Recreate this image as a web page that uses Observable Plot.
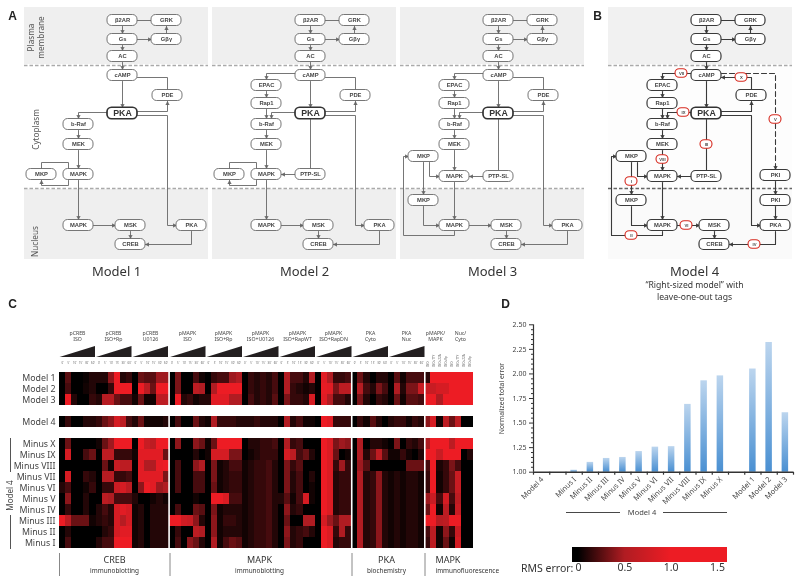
<!DOCTYPE html>
<html><head><meta charset="utf-8">
<style>
html,body{margin:0;padding:0;background:#fff}
#fig{position:relative;width:800px;height:584px;overflow:hidden}
#fig svg{position:absolute;left:0;top:0;filter:blur(.3px)}
</style>
<script src="https://cdn.jsdelivr.net/npm/d3@7"></script>
<script src="https://cdn.jsdelivr.net/npm/@observablehq/plot@0.6"></script>
</head><body><div id="fig"></div>
<script>
// ---------- Panel C data: RMS error per condition (68 columns)
const rowModel1 = [0,.25,0,0,.03,.1, .1,.1,.4,1,.1,.15, 0,.3,.25,.25,.45,.45, 0,.35,0,0,.2,.05, 0,.15,.2,.2,.45,.5, 0,.15,.1,.15,.1,.2, 0,.5,.2,.2,.1,.5, 0,.9,.5,.15,.15,.2, 0,.3,.1,0,.1,.1, 0,.25,.05,.2,.2,.2, .12,1,1,1,1,1,1,1];
const rowModel2 = [0,.2,0,0,.05,.1, 0,0,.15,1,1,1, 0,1,.6,.3,1,1, 0,.35,0,0,.6,.5, 0,.5,1,1,1,1, 0,.15,.1,.15,.1,.2, 0,.5,.15,.1,.05,.1, 0,.95,.9,.35,.6,.6, 0,.55,.2,.1,.35,.2, 0,.5,.1,.35,.35,.7, .7,.7,.8,.8,1,1,1,1];
const rowModel3 = [0,1,.1,0,0,.15, .1,.55,.55,.3,.2,.2, .05,.3,.05,.05,.6,.6, 0,1,.1,.15,.05,.1, .1,.9,.9,.9,.5,.5, 0,.2,.1,.15,.1,.25, 0,.35,.15,.15,.1,.8, 0,.9,.5,.2,.2,.1, 0,.35,.1,0,.15,.1, 0,.3,.05,.25,.25,.2, 1,1,.5,1,1,1,1,1];
const rowModel4 = [0,.15,0,0,.1,.1, .15,.3,.4,.8,.6,.2, .1,.3,.05,.05,.05,.1, 0,.2,0,0,.3,.1, .05,.5,.15,.15,.15,.1, .1,.1,.15,.1,.1,.1, 0,.5,.1,.2,.05,.05, 0,1,.9,.15,.15,.15, 0,.15,.05,.25,.1,0, .1,.15,.15,.05,.15,.1, .4,.8,.05,.6,.3,.6,0,0];
const rowMinusX = [0,.3,0,0,0,0, .05,.3,.45,1,1,1, 0,1,.7,.6,1,1, 0,.4,0,0,.4,.3, .05,.3,1,1,1,1, 0,.1,.1,.15,.15,.2, 0,.5,.15,.2,0,0, 0,1,.85,.35,.45,.4, 0,.5,0,.1,.1,.05, 0,.35,0,.15,.1,.2, .5,1,1,1,.6,1,1,1];
const rowMinusIX = [0,.8,0,0,.2,.3, 0,.6,.6,.15,.15,.15, .05,.9,.9,.9,.9,.3, 0,0,0,0,.1,0, .05,.8,.8,.8,.35,.35, 0,.05,.1,.15,.15,.15, 0,.8,.6,.2,.3,.1, 0,1,.85,.3,0,.05, 0,.5,.1,.3,.6,.25, .05,.05,.15,.05,0,.1, 1,1,.7,1,1,1,0,.1];
const rowMinusVIII = [0,0,0,0,0,0, 0,.3,.05,.7,.6,.6, 0,.9,.5,.5,.95,1, 0,.2,0,0,.4,.5, 0,.35,.05,.1,.2,.2, .05,.1,.15,.15,.2,.1, 0,.35,.15,.25,0,0, 0,1,.85,.15,.45,.15, 0,.45,.25,0,0,0, 0,0,0,.3,.3,.3, .2,1,.08,.15,.35,.2,0,0];
const rowMinusVII = [0,.8,0,0,.15,.1, 0,.55,.55,.15,.15,.2, 0,.9,.9,.9,.9,.35, 0,.2,0,0,.2,.2, 0,.35,.05,.1,.15,.15, .05,.1,.15,.15,.2,.1, 0,.35,.1,.2,0,.1, 0,1,.85,.1,.15,.15, 0,.5,.1,.15,.4,.1, .05,.1,.05,.1,.1,.05, .15,1,.05,.15,.3,.7,0,0];
const rowMinusVI = [.1,.2,0,0,.05,.15, 0,.15,.15,.7,.8,.6, 0,.4,1,.9,.45,.5, 0,.2,0,0,.2,.2, 0,.3,.05,.1,.15,.15, .05,.1,.15,.15,.2,.1, 0,.35,.1,.2,0,.05, 0,1,.85,.1,.15,.15, 0,.5,.1,.15,.4,.1, .05,.1,.05,.1,.1,.05, .15,1,.05,.15,.3,.7,0,0];
const rowMinusV = [0,.4,0,0,.1,0, 0,.6,.5,.2,.2,.2, .1,0,0,.05,.1,.05, 0,0,0,0,.05,0, 0,1,1,.85,.2,.2, .05,.1,.15,.15,.2,.1, .1,.25,.05,.2,.8,.05, 0,1,.85,.1,.15,.15, 0,.5,.1,.15,.4,.1, .05,.1,.05,.1,.1,.05, .45,.7,.2,.8,.2,.6,0,0];
const rowMinusIV = [0,.15,0,0,.1,0, .1,.2,.1,.8,.9,.8, .05,.1,0,.1,.1,.1, 0,.2,0,0,.3,.25, 0,.35,.05,.1,.1,.1, .05,.1,.15,.15,.2,.1, 0,.4,.1,.15,0,0, 0,1,.85,.1,.15,.15, 0,.5,.1,.15,.4,.1, .05,.1,.05,.1,.1,.05, .3,1,.05,.6,.1,.7,0,0];
const rowMinusIII = [1,.6,.3,.3,.3,.05, .1,.15,.1,.8,.55,.8, .05,.1,0,.1,.1,.1, 1,1,.75,.7,.4,.1, 0,.4,.05,.15,.15,.1, .05,.1,.15,.15,.2,.1, 0,.3,0,0,.5,.5, 0,.8,.45,.3,.5,.5, 0,.5,.1,.15,.4,.1, .05,.1,.05,.1,.1,.05, 1,1,.55,.6,1,1,0,0];
const rowMinusII = [0,.1,0,0,0,0, 0,.1,.15,.8,.9,.9, .05,.1,0,.1,.1,.1, 0,.15,0,0,.6,.5, 0,.4,.05,.1,.1,.1, .05,.1,.15,.15,.2,.1, 0,.4,.1,.15,.2,.1, 0,1,.85,.15,.5,.15, 0,.5,.1,.15,.4,.1, .05,.1,.05,.1,.1,.05, .2,.6,.05,.4,.15,.7,0,0];
const rowMinusI = [0,.2,0,0,0,0, .1,.2,.2,1,1,1, .05,.1,0,.1,.1,.1, 0,.2,0,.4,.3,.1, 0,.5,.05,.2,.3,.25, .05,.1,.15,.15,.2,.1, 0,.35,.1,.15,0,0, 0,1,.85,.1,.15,.15, 0,.5,.1,.15,.4,.1, .05,.1,.05,.1,.1,.05, .15,.6,.05,.3,.05,.8,0,0];
const rowNames = ["Model 1","Model 2","Model 3","Model 4","Minus X","Minus IX","Minus VIII","Minus VII","Minus VI","Minus V","Minus IV","Minus III","Minus II","Minus I"];
const rowValues = [rowModel1,rowModel2,rowModel3,rowModel4,rowMinusX,rowMinusIX,rowMinusVIII,rowMinusVII,rowMinusVI,rowMinusV,rowMinusIV,rowMinusIII,rowMinusII,rowMinusI];
const rowDomain = ["Model 1","Model 2","Model 3"," ","Model 4","  ","Minus X","Minus IX","Minus VIII","Minus VII","Minus VI","Minus V","Minus IV","Minus III","Minus II","Minus I"];
const heatSeparators = [18,48,60];
const groupHeads = [["pCREB","ISO"],["pCREB","ISO+Rp"],["pCREB","U0126"],["pMAPK","ISO"],["pMAPK","ISO+Rp"],["pMAPK","ISO+U0126"],["pMAPK","ISO+RapWT"],["pMAPK","ISO+RapDN"],["PKA","Cyto"],["PKA","Nuc"]];
const doseLabels = ["0'","5'","10'","15'","30'","60'"];
const fluoLabels = ["ISO","ISO+TTY","ISO+22A","ISO+Rp","ISO","ISO+TTY","ISO+22A","ISO+Rp"];

// ---------- Panel D data
const barNames = ["Model 4","Minus I","Minus II","Minus III","Minus IV","Minus V","Minus VI","Minus VII","Minus VIII","Minus IX","Minus X","Model 1","Model 2","Model 3"];
const barSlots = [0,2,3,4,5,6,7,8,9,10,11,13,14,15];
const barValues = [1.00,1.02,1.10,1.14,1.15,1.21,1.255,1.26,1.69,1.93,1.98,2.05,2.32,1.605];
const barTicks = [1,1.25,1.5,1.75,2,2.25,2.5];
const barMinorTicks = [1.05,1.1,1.15,1.2,1.3,1.35,1.4,1.45,1.55,1.6,1.65,1.7,1.8,1.85,1.9,1.95,2.05,2.1,2.15,2.2,2.3,2.35,2.4,2.45];
const barEdges = [0,1,2,3,4,5,6,7,8,9,10,11,12,13,14,15,16];

// ---------- Panel A/B diagram (node boxes and wires, in a panel's own layout units)
const panelOffsets = [0,188,376,584];
const topNodes = [["β2AR",122,20],["GRK",166,20],["Gs",122,39],["Gβγ",166,39],["AC",122,56],["cAMP",122,75],["PDE",167,95]];
const hubNode = [["PKA",122,113]];
const nucleusNodes = [["MAPK",78,225],["MSK",130,225],["PKA",191,225],["CREB",130,244]];
const model1Nodes = [["b-Raf",78,124],["MEK",78,144],["MAPK",78,174],["MKP",41,174]];
const model2Nodes = [["EPAC",78,85],["Rap1",78,103],["b-Raf",78,124],["MEK",78,144],["MAPK",78,174],["MKP",41,174],["PTP-SL",122,174]];
const model3Nodes = [["EPAC",78,85],["Rap1",78,103],["b-Raf",78,124],["MEK",78,144],["MAPK",78,176],["MKP",47,156],["MKP",47,200],["PTP-SL",122,176]];
const model4Nodes = model3Nodes.concat([["PKI",191,175],["PKI",191,200]]);
const sharedArrows = [[[122,26],[122,33]],[[122,45],[122,50]],[[122,62],[122,69]],[[166,33],[166,26]],[[137,39],[151,39]],[[122,81],[122,107]],[[137,111],[167,111],[167,101]],[[137,115],[167,115],[167,225],[176,225]],[[191,231],[191,244],[145,244]],[[93,225],[115,225]],[[130,231],[130,238]],[[78,130],[78,138]]];
const sharedPlain = [[[151,20],[137,20]]];
const pdeWire = [[[167,89],[167,77],[137,77]]];
const model1Arrows = [[[107,112],[78,112],[78,118]],[[78,150],[78,168]],[[68,180],[68,185],[41,185],[41,180]],[[78,180],[78,219]]];
const model1Plain = [[[41,168],[41,162],[68,162],[68,168]]];
const epacArrows = [[[107,73],[78,73],[78,79]],[[78,91],[78,97]],[[78,109],[78,118]],[[107,112],[83,112],[83,118]]];
const model2Arrows = epacArrows.concat([[[78,150],[78,168]],[[68,180],[68,185],[41,185],[41,180]],[[78,180],[78,219]],[[107,174],[93,174]]]);
const model2Plain = [[[41,168],[41,162],[68,162],[68,168]],[[122,119],[122,168]]];
const model3Arrows = epacArrows.concat([[[78,150],[78,170]],[[78,182],[78,219]],[[107,176],[93,176]],[[47,162],[47,194]],[[47,206],[47,225],[63,225]],[[78,231],[78,235],[27,235],[27,156],[32,156]],[[53,162],[53,176],[63,176]]]);
const model3Plain = [[[122,119],[122,170]]];
const model4Dashed = [[[137,73],[191,73],[191,169]]];
const model4Arrows = [[[191,181],[191,194]],[[191,206],[191,219]]];
const tagLabels = [["VII",97,73],["X",157,77],["IX",99,112],["III",122,144],["V",191,119],["VIII",78,159],["I",47,181],["II",47,235],["VI",102,225],["IV",170,244]];

// ---------- Text
const FONT = "'Noto Sans',sans-serif";
const INK = "#444";
const panelLetters = [["A",12,16],["B",597,16],["C",12,304],["D",505,304]];
const modelTitles = [["Model 1",116,271],["Model 2",304,271],["Model 3",492,271],["Model 4",694,271]];
const modelSub = [["“Right-sized model” with",694,285],["leave-one-out tags",694,297]];
const regionLabels = [["Plasma",30.5,37],["membrane",40.5,37],["Cytoplasm",36,129],["Nucleus",35,241]];
const assayTitles = [["CREB",114,560,"middle"],["MAPK",259,560,"middle"],["PKA",386,560,"middle"],["MAPK",435,560,"start"]];
const assaySubs = [["immunoblotting",114,570.5,"middle"],["immunoblotting",259,570.5,"middle"],["biochemistry",386,570.5,"middle"],["immunofluorescence",435,570.5,"start"]];
const assayDividers = [59,169.5,351.5,424.5];
const groupCenters = [77,113,150,187,223,260,297,333,370,406];
const wedgeStarts = [59.5,96,132.5,170,206.5,243,279.5,316,352.5,389];
const fluoTitles = [["pMAPK/",435,332.5],["MAPK",435,339],["Nuc/",460,332.5],["Cyto",460,339]];

// ---------- Layer 1: diagrams, headings
function edgePoints(list, ox, tag){
  return list.flatMap((e,i)=>e.map(p=>({x:p[0]+ox,y:p[1],id:tag+ox+"-"+i})));
}
function triangle(color, context){
  const doc = context.document, ns = "http://www.w3.org/2000/svg";
  const m = doc.createElementNS(ns,"marker");
  m.setAttribute("viewBox","-4 -4 8 8");
  m.setAttribute("markerWidth",4.5); m.setAttribute("markerHeight",4.5);
  m.setAttribute("markerUnits","userSpaceOnUse"); m.setAttribute("orient","auto");
  m.setAttribute("refX",3); m.setAttribute("refY",0);
  const p = doc.createElementNS(ns,"path");
  p.setAttribute("d","M-3,-3L3,0L-3,3Z"); p.setAttribute("fill",color);
  m.appendChild(p); return m;
}
const modelNodes = [model1Nodes,model2Nodes,model3Nodes,model4Nodes];
const modelArrows = [model1Arrows,model2Arrows,model3Arrows,model4Arrows.concat(model3Arrows)];
const modelPlain = [model1Plain,model2Plain,model3Plain,model3Plain];
function nodeTable(ix){
  const ox = panelOffsets[ix];
  return topNodes.concat(modelNodes[ix],nucleusNodes).map(n=>({t:n[0],x:n[1]+ox,y:n[2],panel:ix}));
}
const lightNodes = [0,1,2].flatMap(nodeTable);
const darkNodes = nodeTable(3);
const hubs = panelOffsets.map((ox,i)=>({t:"PKA",x:hubNode[0][1]+ox,y:hubNode[0][2],panel:i}));
const rectOf = (w,h)=>({x1:d=>d.x-w/2,x2:d=>d.x+w/2,y1:d=>d.y-h/2,y2:d=>d.y+h/2});
const tagTable = tagLabels.map(t=>({t:t[0],x:t[1]+584,y:t[2]}));
const bandRows = panelOffsets.map((ox,i)=>({ox,i}));
const lightArrowPts = [0,1,2].flatMap(i=>edgePoints(sharedArrows.concat(modelArrows[i]),panelOffsets[i],"a"));
const lightPlainPts = [0,1,2].flatMap(i=>edgePoints(sharedPlain.concat(modelPlain[i],pdeWire),panelOffsets[i],"p"));
const darkArrowPts = edgePoints(sharedArrows.concat(modelArrows[3],pdeWire),584,"a");
const darkPlainPts = edgePoints(sharedPlain.concat(modelPlain[3]),584,"p");
const dashedPts = edgePoints(model4Dashed,584,"d");
const wedges = wedgeStarts.flatMap((s,i)=>[{x:s,y1:357,y2:357,g:i},{x:s+35.5,y1:346,y2:357,g:i}]);
const doseTable = d3.range(60).map(i=>({t:doseLabels[i%6],x:59+6.088*(i+.5),y:363}));
const fluoTable = fluoLabels.map((t,i)=>({t,x:59+6.088*(60.5+i),y:366}));
const T = (rows,o)=>Plot.text(rows,{text:d=>d[0],x:d=>d[1],y:d=>d[2],fontFamily:FONT,fill:INK,...o});

const layer1 = Plot.plot({
  width:800,height:584,margin:0,style:{background:"transparent",fontFamily:FONT},
  x:{type:"linear",domain:[0,800],range:[0,800],axis:null},
  y:{type:"linear",domain:[0,584],range:[0,584],axis:null},
  marks:[
    Plot.rect(bandRows,{x1:d=>d.ox+24,x2:d=>d.ox+208,y1:7,y2:64,fill:d=>d.i===3?"#f1f1f1":"#efefef"}),
    Plot.rect(bandRows,{x1:d=>d.ox+24,x2:d=>d.ox+208,y1:189,y2:259,fill:d=>d.i===3?"#fafafa":"#efefef"}),
    Plot.rect([3],{x1:608,x2:792,y1:64,y2:189,fill:"#fdfdfd"}),
    Plot.ruleY(bandRows,{y:65,x1:d=>d.ox+24,x2:d=>d.ox+208,stroke:"#aaa",strokeWidth:1.6,strokeDasharray:"3.5,2"}),
    Plot.ruleY(bandRows,{y:188,x1:d=>d.ox+24,x2:d=>d.ox+208,stroke:d=>d.i===3?"#666":"#aaa",strokeWidth:1.6,strokeDasharray:"3.5,2"}),
    Plot.line(lightPlainPts,{x:"x",y:"y",z:"id",stroke:"#666",strokeWidth:.9}),
    Plot.line(lightArrowPts,{x:"x",y:"y",z:"id",stroke:"#666",strokeWidth:.9,markerEnd:triangle}),
    Plot.line(darkPlainPts,{x:"x",y:"y",z:"id",stroke:"#3a3a3a",strokeWidth:1.1}),
    Plot.line(darkArrowPts,{x:"x",y:"y",z:"id",stroke:"#3a3a3a",strokeWidth:1.1,markerEnd:triangle}),
    Plot.line(dashedPts,{x:"x",y:"y",z:"id",stroke:"#3a3a3a",strokeWidth:1.1,strokeDasharray:"5,3",markerEnd:triangle}),
    Plot.rect(lightNodes,{...rectOf(30,11),rx:4.5,fill:"white",stroke:"#666",strokeWidth:.9}),
    Plot.rect(darkNodes,{...rectOf(30,11),rx:4.5,fill:"white",stroke:"#3a3a3a",strokeWidth:1.2}),
    Plot.rect(hubs,{...rectOf(30,11.5),rx:4.5,fill:"white",stroke:"#333",strokeWidth:1.7}),
    Plot.text(lightNodes.concat(darkNodes),{text:"t",x:"x",y:"y",fontFamily:"'Liberation Sans',sans-serif",fontWeight:"bold",fontSize:5.8,fill:"#444"}),
    Plot.text(hubs,{text:"t",x:"x",y:"y",fontFamily:"'Liberation Sans',sans-serif",fontWeight:"bold",fontSize:8.8,fill:"#333"}),
    Plot.rect(tagTable,{...rectOf(12,8.5),rx:4.2,fill:"white",stroke:"#d6281e",strokeWidth:1.1}),
    Plot.text(tagTable,{text:"t",x:"x",y:"y",fontFamily:"'Liberation Sans',sans-serif",fontWeight:"bold",fontSize:4.2,fill:"#444"}),
    T(panelLetters,{fontFamily:"'Liberation Sans',sans-serif",fontWeight:"bold",fontSize:12,fill:"#222"}),
    T(modelTitles,{fontSize:13,fill:"#333"}),
    T(modelSub,{fontSize:8.6,fill:"#333"}),
    T(regionLabels,{rotate:-90,fontSize:8.2,fill:"#555"}),
    ...assayTitles.map(a=>T([a],{textAnchor:a[3],fontSize:9,fill:"#333"})),
    ...assaySubs.map(a=>T([a],{textAnchor:a[3],fontSize:6.4,fill:"#333"})),
    Plot.ruleX(assayDividers,{y1:553,y2:576,stroke:"#888",strokeWidth:1}),
    Plot.areaY(wedges,{x:"x",y1:"y1",y2:"y2",z:"g",fill:"#231f20"}),
    Plot.text(groupHeads,{text:d=>d[0],x:(d,i)=>groupCenters[i],y:332.5,fontFamily:FONT,fontSize:5.2,fill:INK}),
    Plot.text(groupHeads,{text:d=>d[1],x:(d,i)=>groupCenters[i],y:339,fontFamily:FONT,fontSize:5.2,fill:INK}),
    T(fluoTitles,{fontSize:5.2}),
    Plot.text(doseTable,{text:"t",x:"x",y:"y",fontFamily:FONT,fontSize:2.8,fill:"#666"}),
    Plot.text(fluoTable,{text:"t",x:"x",y:"y",rotate:-90,textAnchor:"start",fontFamily:FONT,fontSize:3,fill:"#666"}),
    // panel C bracket
    Plot.text(["Model 4"],{x:10,y:495,rotate:-90,fontFamily:FONT,fontSize:8,fill:INK}),
    Plot.ruleX([10],{y1:438,y2:472,stroke:"#555",strokeWidth:1}),
    Plot.ruleX([10],{y1:515,y2:549,stroke:"#555",strokeWidth:1}),
    // panel D captions
    Plot.text(["Normalized total error"],{x:501,y:398,rotate:-90,fontFamily:FONT,fontSize:6.8,fill:INK}),
    Plot.text(["Model 4"],{x:641.5,y:512,fontFamily:FONT,fontSize:7.5,fill:INK}),
    Plot.ruleY([512],{x1:566,x2:620,stroke:"#333",strokeWidth:.9}),
    Plot.ruleY([512],{x1:663,x2:727,stroke:"#333",strokeWidth:.9}),
    Plot.text(["RMS error:"],{x:520.5,y:568.5,textAnchor:"start",fontFamily:FONT,fontSize:10.5,fill:"#333"})
  ]
});

// ---------- Layer 2: heat map
const heatCells = rowNames.flatMap((r,i)=>rowValues[i].map((v,c)=>({row:r,col:c,v})));
const heatDomain = [0,.5,1];
const heatRange = ["#000000","#b01c22","#ed1c24"];
const heatColor = {type:"linear",domain:heatDomain,range:heatRange,clamp:true};
const layer2 = Plot.plot({
  width:800,height:584,marginLeft:59,marginRight:327,marginTop:369,marginBottom:32.3,
  style:{background:"transparent",fontFamily:FONT},
  x:{type:"linear",domain:[0,68],axis:null},
  y:{type:"band",domain:rowDomain,padding:0,label:null},
  color:heatColor,
  marks:[
    Plot.barX(heatCells,{x1:"col",x2:d=>d.col+1,y:"row",fill:"v",shapeRendering:"crispEdges"}),
    Plot.ruleX(heatSeparators,{stroke:"white",strokeWidth:1.6}),
    Plot.axisY(rowNames,{tickSize:0,tickPadding:4,fontSize:8.8,label:null,fill:INK})
  ]
});

// ---------- Layer 3: bar chart
const barTable = barNames.map((n,i)=>({name:n,slot:barSlots[i],v:barValues[i]}));
const gradient = ()=>{
  const defs = d3.create("svg:defs");
  const g = defs.append("linearGradient").attr("id","barGrad").attr("x1",0).attr("x2",0).attr("y1",0).attr("y2",1);
  g.append("stop").attr("offset","0%").attr("stop-color","#bcd5ee");
  g.append("stop").attr("offset","100%").attr("stop-color","#4a90d2");
  return defs.node();
};
const layer3 = Plot.plot({
  width:800,height:584,marginLeft:533,marginRight:7,marginTop:324.3,marginBottom:112.3,
  style:{background:"transparent",fontFamily:FONT},
  x:{type:"linear",domain:[0,16],axis:null},
  y:{type:"linear",domain:[1,2.5],axis:null},
  marks:[
    gradient,
    Plot.rectY(barTable,{x1:d=>d.slot+.3,x2:d=>d.slot+.7,y1:1,y2:"v",fill:"url(#barGrad)"}),
    Plot.axisY(barMinorTicks,{tickSize:2,tickFormat:()=>"",stroke:"#333",label:null}),
    Plot.axisY(barTicks,{tickSize:4,tickFormat:d=>d.toFixed(2),fontSize:7,fill:INK,stroke:"#333",tickPadding:3,label:null}),
    Plot.ruleX([0],{stroke:"#333",strokeWidth:1.2}),
    Plot.ruleY([1],{stroke:"#333",strokeWidth:1.4}),
    Plot.axisX(barEdges,{anchor:"bottom",tickSize:3,tickFormat:()=>"",stroke:"#333",label:null,strokeWidth:1.2}),
    Plot.text(barTable,{x:d=>d.slot+.55,y:1,text:"name",rotate:-45,textAnchor:"end",dy:6,fontFamily:FONT,fontSize:7.4,fill:INK})
  ]
});

// ---------- Layer 4: colour key
const keyMin = -0.065, keyMax = 1.608;
const keyTicks = [0,.5,1,1.5];
const keyGradient = ()=>{
  const defs = d3.create("svg:defs");
  const g = defs.append("linearGradient").attr("id","keyGrad").attr("x1",0).attr("x2",1).attr("y1",0).attr("y2",0);
  const pct = v=>((v-keyMin)/(keyMax-keyMin)*100)+"%";
  heatDomain.forEach((v,i)=>g.append("stop").attr("offset",pct(v)).attr("stop-color",heatRange[i]));
  return defs.node();
};
const layer4 = Plot.plot({
  width:800,height:584,marginLeft:572,marginRight:73,marginTop:547,marginBottom:22,
  style:{background:"transparent",fontFamily:FONT},
  x:{type:"linear",domain:[keyMin,keyMax],axis:null},
  y:{type:"linear",domain:[0,1],axis:null},
  marks:[
    keyGradient,
    Plot.rect([keyMin],{x1:keyMin,x2:keyMax,y1:0,y2:1,fill:"url(#keyGrad)"}),
    Plot.axisX(keyTicks,{anchor:"bottom",tickSize:0,tickPadding:1,tickFormat:d=>d===0?"0":d.toFixed(1),fontSize:10.5,fill:"#333",label:null})
  ]
});
document.getElementById("fig").append(layer1,layer2,layer3,layer4);
</script></body></html>
